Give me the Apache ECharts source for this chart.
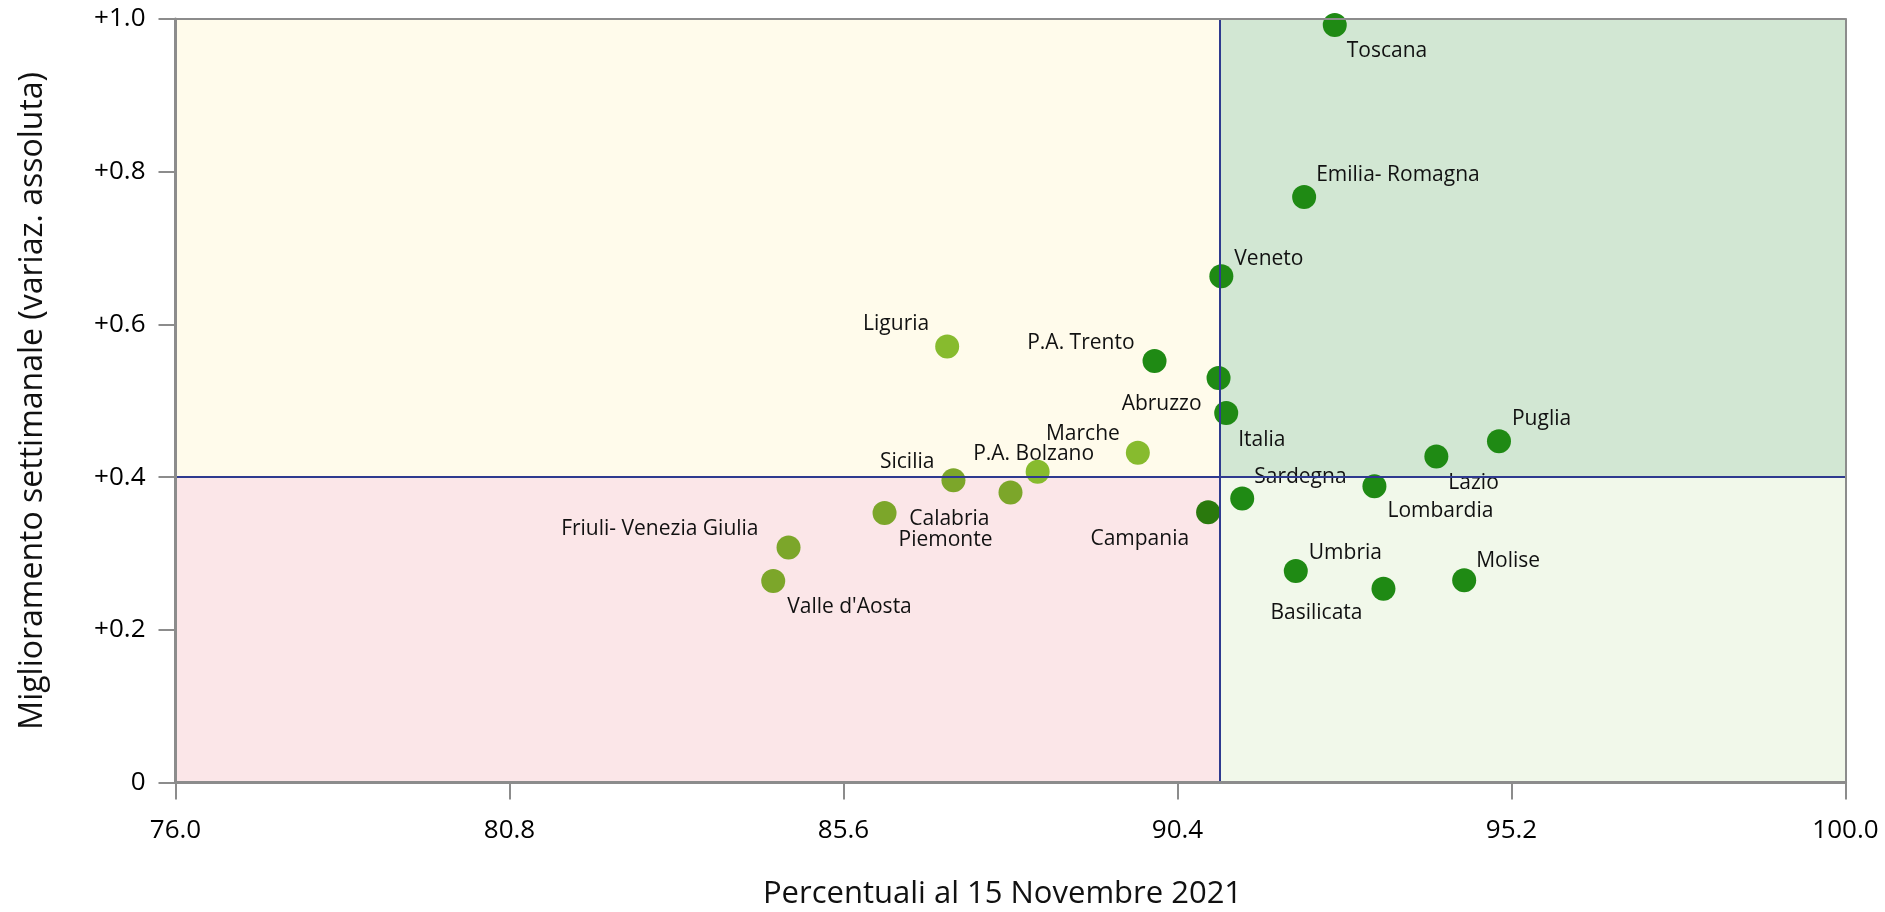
<!DOCTYPE html>
<html><head><meta charset="utf-8">
<script src="https://cdn.jsdelivr.net/npm/echarts@6/dist/echarts.min.js"></script>
<style>html,body{margin:0;padding:0;background:#fff}#c{width:1885px;height:912px}</style>
</head><body><div id="c"></div>
<script>
// ---- data ----
const names = ["Toscana","Emilia- Romagna","Veneto","Liguria","P.A. Trento","Abruzzo","Italia","Marche","P.A. Bolzano","Sicilia","Piemonte","Calabria","Friuli- Venezia Giulia","Valle d'Aosta","Campania","Sardegna","Lombardia","Lazio","Puglia","Molise","Umbria","Basilicata"];
const xValues = [92.66,92.22,91.03,87.09,90.07,90.99,91.10,89.83,88.39,87.18,86.19,88.00,84.81,84.59,90.84,91.33,93.23,94.12,95.02,94.52,92.10,93.36];
const yValues = [0.992,0.767,0.663,0.571,0.552,0.530,0.484,0.432,0.407,0.396,0.353,0.380,0.308,0.264,0.354,0.372,0.388,0.427,0.447,0.265,0.277,0.254];
const groups = ["A","A","A","C","A","A","A","C","C","D","D","D","D","D","B","A","A","A","A","A","A","A"];
const xSplit = 91.0, ySplit = 0.4;
const xMin = 76, xMax = 100, xStep = 4.8;
const yMin = 0, yMax = 1, yStep = 0.2;
const xTitle = "Percentuali al 15 Novembre 2021";
const yTitle = "Miglioramento settimanale (variaz. assoluta)";

// ---- styles ----
const groupColors = {A:"#1f8a14", B:"#2a790d", C:"#87bb2e", D:"#7ca62a"};
const labelLayout = {
  "Toscana":["left",12,26], "Emilia- Romagna":["left",12,-22], "Veneto":["left",13,-17],
  "Liguria":["right",-18,-23], "P.A. Trento":["right",-20,-18], "Abruzzo":["right",-17,26],
  "Italia":["left",12,27], "Marche":["right",-18,-19], "P.A. Bolzano":["center",-4,-18],
  "Sicilia":["right",-19,-18], "Piemonte":["left",14,27], "Calabria":["right",-21,27],
  "Friuli- Venezia Giulia":["right",-30,-18], "Valle d'Aosta":["left",14,26],
  "Campania":["right",-19,27], "Sardegna":["left",12,-22], "Lombardia":["left",13,25],
  "Lazio":["left",12,26], "Puglia":["left",13,-22], "Molise":["left",12,-19],
  "Umbria":["left",13,-18], "Basilicata":["right",-21,24]
};
const FONT = "'Open Sans', 'Noto Sans', sans-serif";
const axisGray = "#8c8c8c";

const points = names.map((n, i) => {
  const l = labelLayout[n];
  return {
    name: n,
    value: [xValues[i], yValues[i]],
    itemStyle: {color: groupColors[groups[i]], opacity: 1},
    label: {show: true, formatter: n, position: "inside", align: l[0], verticalAlign: "middle",
            offset: [l[1], l[2]], color: "#111111", opacity: 1, fontSize: 21, fontFamily: FONT}
  };
});

const chart = echarts.init(document.getElementById("c"), null, {renderer: "canvas"});
chart.setOption({
  animation: false,
  backgroundColor: "#ffffff",
  grid: {left: 175.5, right: 39.5, top: 19, bottom: 129.4, containLabel: false, outerBoundsMode: "none"},
  xAxis: [{
    type: "value", min: xMin, max: xMax, interval: xStep, z: 10,
    name: xTitle, nameLocation: "middle", nameGap: 96,
    nameTextStyle: {fontSize: 31, fontFamily: FONT, color: "#111111", padding: [0, 16, 0, 0]},
    splitLine: {show: false},
    axisLine: {show: true, lineStyle: {color: axisGray, width: 3}},
    axisTick: {show: true, inside: false, length: 17, lineStyle: {color: axisGray, width: 2}},
    axisLabel: {margin: 35, fontSize: 26, fontFamily: FONT, color: "#000",
                formatter: v => v.toFixed(1)}
  }, {
    type: "value", position: "top", min: xMin, max: xMax, z: 10,
    axisLine: {show: true, onZero: false, lineStyle: {color: axisGray, width: 2}},
    axisTick: {show: false}, axisLabel: {show: false}, splitLine: {show: false}
  }],
  yAxis: [{
    type: "value", min: yMin, max: yMax, interval: yStep, z: 10,
    name: yTitle, nameLocation: "middle", nameGap: 127,
    nameTextStyle: {fontSize: 32, fontFamily: FONT, color: "#111111"},
    splitLine: {show: false},
    axisLine: {show: true, lineStyle: {color: axisGray, width: 3}},
    axisTick: {show: true, inside: false, length: 17, lineStyle: {color: axisGray, width: 2}},
    axisLabel: {margin: 30, fontSize: 26, fontFamily: FONT, color: "#000",
                formatter: v => v === 0 ? "0" : "+" + v.toFixed(1)}
  }, {
    type: "value", position: "right", min: yMin, max: yMax, z: 10,
    axisLine: {show: true, onZero: false, lineStyle: {color: axisGray, width: 2}},
    axisTick: {show: false}, axisLabel: {show: false}, splitLine: {show: false}
  }],
  series: [{
    type: "scatter", z: 1, data: [], silent: true,
    markArea: {
      silent: true,
      data: [
        [{coord: [xMin, ySplit], itemStyle: {color: "#fffbeb", opacity: 1}}, {coord: [xSplit, yMax]}],
        [{coord: [xSplit, ySplit], itemStyle: {color: "#d2e7d3", opacity: 1}}, {coord: [xMax, yMax]}],
        [{coord: [xMin, yMin], itemStyle: {color: "#fbe6e8", opacity: 1}}, {coord: [xSplit, ySplit]}],
        [{coord: [xSplit, yMin], itemStyle: {color: "#f1f8ea", opacity: 1}}, {coord: [xMax, ySplit]}]
      ]
    }
  }, {
    type: "scatter", z: 3, symbol: "circle", symbolSize: 24,
    itemStyle: {opacity: 1},
    data: points
  }, {
    type: "scatter", z: 5, data: [], silent: true,
    markLine: {
      silent: true, symbol: "none", label: {show: false},
      lineStyle: {color: "#2e3a8f", width: 2, type: "solid", opacity: 1},
      data: [{xAxis: xSplit}, {yAxis: ySplit}]
    }
  }]
});
</script></body></html>
